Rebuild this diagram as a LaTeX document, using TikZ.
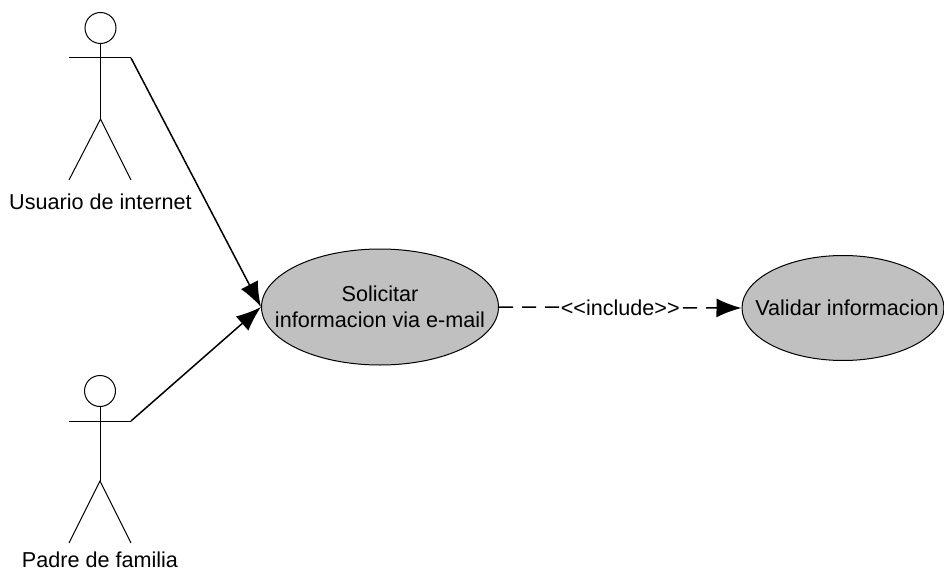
\documentclass[tikz,border=0pt]{standalone}
\usepackage{fontspec}
\setmainfont{Liberation Sans}
\usetikzlibrary{arrows,arrows.meta,calc,positioning,shapes}
\definecolor{casegray}{HTML}{C0C0C0}

\begin{document}
\begin{tikzpicture}[x=1pt,y=-1pt,font=\fontsize{21.6}{26}\selectfont,
usecase/.style={ellipse, draw, fill=casegray, line width=1pt, inner xsep=-30pt, inner ysep=0pt, align=center},
actorhead/.style={circle, draw, line width=1pt, minimum size=31pt, inner sep=0pt},
actorline/.style={draw, line width=1pt},
line/.style={draw, line width=1.5pt, -{Latex[length=25pt,width=19pt]}},
include/.style={draw, line width=1.5pt, dash pattern=on 14pt off 9pt, -{Latex[length=25pt,width=19pt]}}]
\useasboundingbox (0,0) rectangle (944,572);

% Actors
\node[actorhead] (head1) at (100.5,28) {};
\coordinate (hand1l) at (69,58);
\coordinate (hand1r) at (131,58);
\coordinate (hip1) at (100.5,119);
\coordinate (foot1l) at (69,180);
\coordinate (foot1r) at (131,180);
\path[actorline] (head1) -- (hip1);
\path[actorline] (hand1l) -- (hand1r);
\path[actorline] (foot1l) -- (hip1) -- (foot1r);
\node (user) at (100.5,202) {Usuario de internet};

\node[actorhead] (head2) at (100,391) {};
\coordinate (hand2l) at (69,421);
\coordinate (hand2r) at (131,421);
\coordinate (hip2) at (100,481);
\coordinate (foot2l) at (69,543);
\coordinate (foot2r) at (131,543);
\path[actorline] (head2) -- (hip2);
\path[actorline] (hand2l) -- (hand2r);
\path[actorline] (foot2l) -- (hip2) -- (foot2r);
\node[inner ysep=0pt] (parent) at (100,560) {Padre de familia};

% Use cases
\node[usecase, minimum width=237pt, minimum height=116pt] (request) at (380,307) {Solicitar\\informacion via e-mail};
\node[usecase, minimum width=202pt, minimum height=105pt] (validate) at (843,308) {\hspace*{8pt}Validar informacion};

% Paths
\path[line] (hand1r) -- (request.west);
\path[line] (hand2r) -- (request.west);
\path[include] (request.east) -- node[fill=white, inner sep=1pt] (stereo) {<{}<include>{}>} (validate.west);
\end{tikzpicture}
\end{document}
